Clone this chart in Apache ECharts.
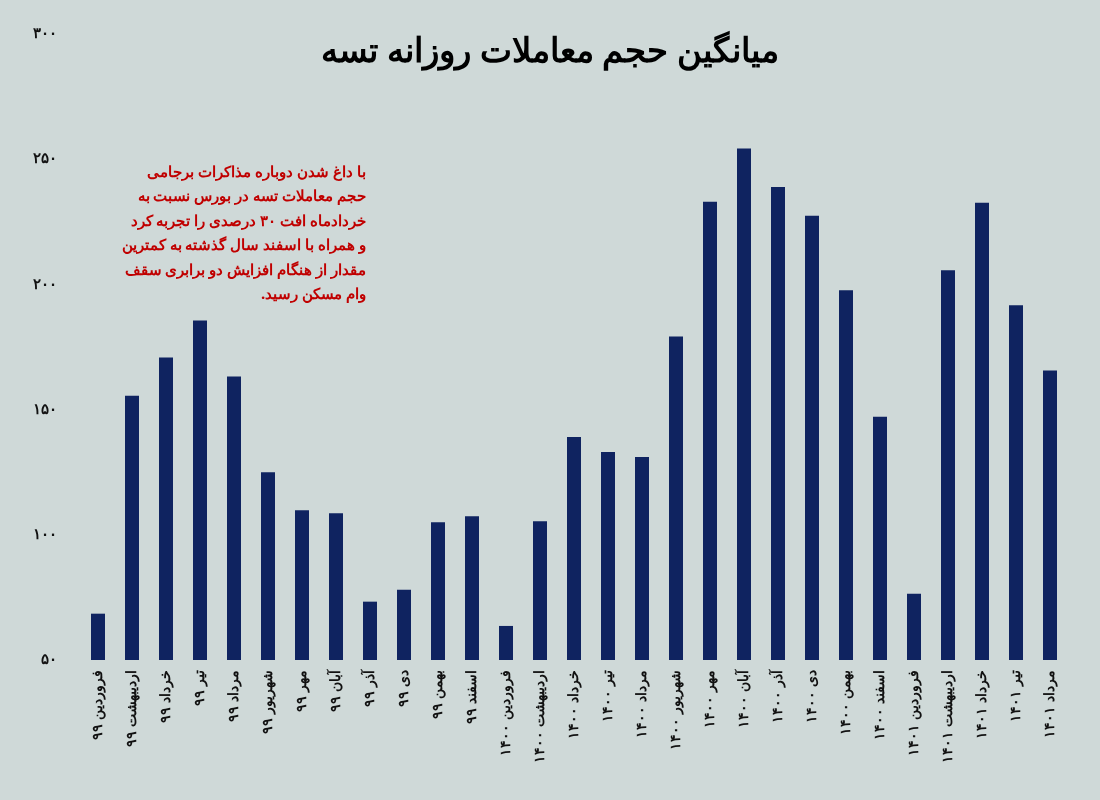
<!DOCTYPE html>
<html><head><meta charset="utf-8">
<script src="https://cdn.jsdelivr.net/npm/echarts@6/dist/echarts.min.js"></script>
<style>html,body{margin:0;background:#cfd9d8}#c{width:1100px;height:800px}</style>
</head><body><div id="c"></div>
<script>
// ماه‌ها
var months = ['فروردین ۹۹','اردیبهشت ۹۹','خرداد ۹۹','تیر ۹۹','مرداد ۹۹','شهریور ۹۹','مهر ۹۹','آبان ۹۹','آذر ۹۹','دی ۹۹','بهمن ۹۹','اسفند ۹۹',
  'فروردین ۱۴۰۰','اردیبهشت ۱۴۰۰','خرداد ۱۴۰۰','تیر ۱۴۰۰','مرداد ۱۴۰۰','شهریور ۱۴۰۰','مهر ۱۴۰۰','آبان ۱۴۰۰','آذر ۱۴۰۰','دی ۱۴۰۰','بهمن ۱۴۰۰','اسفند ۱۴۰۰',
  'فروردین ۱۴۰۱','اردیبهشت ۱۴۰۱','خرداد ۱۴۰۱','تیر ۱۴۰۱','مرداد ۱۴۰۱']
var volume = [68.5,155.5,170.8,185.6,163.2,125,109.8,108.6,73.3,78.1,105,107.4,
  63.6,105.4,139.1,133.1,131.1,179.2,233,254.3,238.9,227.4,197.7,147.1,
  76.5,205.7,232.6,191.7,165.6]
var yTicks = {50:'۵۰',100:'۱۰۰',150:'۱۵۰',200:'۲۰۰',250:'۲۵۰',300:'۳۰۰'}
var note = 'با داغ شدن دوباره مذاکرات برجامی\nحجم معاملات تسه در بورس نسبت به\nخردادماه افت ۳۰ درصدی را تجربه کرد\nو همراه با اسفند سال گذشته به کمترین\nمقدار از هنگام افزایش دو برابری سقف\n\u200fوام مسکن رسید.\u200f'

var chart = echarts.init(document.getElementById('c'))
chart.setOption({
  backgroundColor: '#cfd9d8',
  textStyle: {fontFamily: 'Noto Sans'},
  title: {text: 'میانگین حجم معاملات روزانه تسه', left: 'center', top: 30,
    textStyle: {fontSize: 34, fontWeight: 900, color: '#000'}},
  graphic: [{type: 'text', right: 1100 - 366, top: 160,
    style: {text: note, fill: '#c00000', font: 'bold 15px "Noto Sans"', textAlign: 'right', lineHeight: 24.5}}],
  grid: {left: 81, right: 33, top: 34, bottom: 140},
  xAxis: {type: 'category', data: months,
    axisLine: {show: false}, axisTick: {show: false},
    axisLabel: {rotate: 90, interval: 0, fontSize: 14, fontWeight: 'bold', color: '#111', margin: 10}},
  yAxis: {type: 'value', min: 50, max: 300, interval: 50,
    splitLine: {show: false}, axisLine: {show: false}, axisTick: {show: false},
    axisLabel: {fontSize: 15, fontWeight: 'bold', color: '#111', margin: 24, formatter: function(v){ return yTicks[v] }}},
  series: [{type: 'bar', data: volume, barWidth: 14, itemStyle: {color: '#0f2360'}}]
})
</script></body></html>
